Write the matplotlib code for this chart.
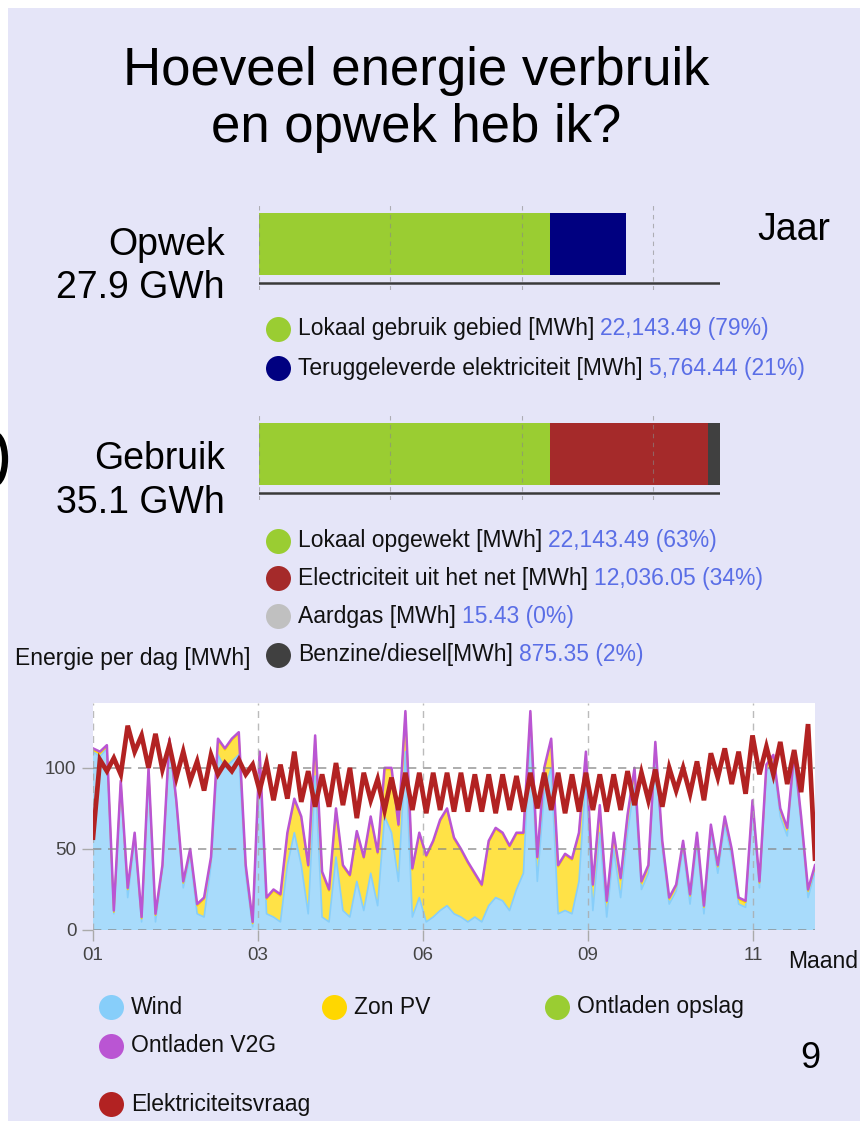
import matplotlib
matplotlib.use('Agg')
import matplotlib.pyplot as plt
import numpy as np
from matplotlib.patches import Rectangle, Arc

plt.rcParams['font.family'] = ['Liberation Sans', 'DejaVu Sans']

# ---------------- data ----------------
title_lines = ['Hoeveel energie verbruik', 'en opwek heb ik?']

opwek_labels = ['Lokaal gebruik gebied [MWh]', 'Teruggeleverde elektriciteit [MWh]']
opwek_values = [22143.49, 5764.44]
opwek_colors = ['#9acd32', '#000080']

gebruik_labels = ['Lokaal opgewekt [MWh]', 'Electriciteit uit het net [MWh]',
                  'Aardgas [MWh]', 'Benzine/diesel[MWh]']
gebruik_values = [22143.49, 12036.05, 15.43, 875.35]
gebruik_colors = ['#9acd32', '#a52a2a', '#c0c0c0', '#404040']

month_labels = ['01', '03', '06', '09', '11']

series_names = ['Wind', 'Zon PV', 'Ontladen opslag', 'Ontladen V2G', 'Elektriciteitsvraag']
series_colors = ['#87cefa', '#ffd700', '#9acd32', '#ba55d3', '#b22222']

# daily energy [MWh], sampled about twice a week over the year
wind = [110, 107, 112, 10, 90, 20, 56, 5, 98, 5, 38, 116, 78, 26, 46, 10, 8, 40, 108, 100,
        104, 108, 34, 2, 105, 10, 8, 5, 40, 60, 40, 10, 95, 8, 5, 45, 12, 8, 30, 12,
        35, 15, 70, 60, 30, 110, 8, 20, 5, 8, 12, 15, 10, 8, 5, 8, 5, 15, 20, 18,
        12, 25, 35, 125, 30, 85, 100, 10, 12, 10, 30, 95, 12, 60, 8, 50, 20, 60, 90, 25,
        35, 112, 50, 16, 24, 50, 16, 54, 10, 60, 35, 65, 45, 16, 14, 76, 26, 98, 104, 70,
        58, 106, 66, 20, 36]
solar = [1, 2, 1, 1, 1, 5, 3, 2, 1, 4, 1, 1, 1, 3, 3, 5, 11, 4, 9, 11,
         13, 13, 5, 2, 4, 9, 16, 16, 19, 20, 29, 29, 24, 27, 19, 29, 27, 25, 30, 32,
         34, 32, 29, 39, 34, 24, 29, 39, 40, 46, 55, 59, 46, 41, 36, 26, 22, 39, 42, 41,
         39, 34, 24, 9, 14, 14, 17, 29, 34, 33, 29, 14, 15, 16, 9, 9, 11, 10, 9, 4,
         4, 3, 4, 3, 3, 4, 5, 5, 4, 4, 4, 4, 4, 3, 3, 3, 3, 3, 3, 4,
         4, 3, 3, 4, 3]
opslag = [0] * 105
v2g = [1] * 105
demand = [57, 105, 98, 106, 96, 126, 110, 120, 100, 121, 99, 114, 94, 110, 92, 104, 86, 108, 96, 103,
          98, 105, 96, 102, 86, 103, 80, 102, 81, 110, 79, 98, 76, 96, 76, 103, 77, 100, 69, 97,
          80, 93, 74, 94, 74, 97, 74, 97, 72, 97, 74, 97, 73, 97, 73, 96, 73, 96, 72, 96,
          74, 95, 73, 97, 75, 97, 74, 97, 72, 96, 73, 97, 74, 96, 73, 96, 74, 98, 77, 97,
          80, 99, 76, 100, 86, 100, 84, 104, 80, 109, 94, 112, 90, 110, 84, 120, 96, 113, 96, 116,
          90, 111, 85, 127, 44]

# ---------------- figure ----------------
W, H = 860, 1121
fig = plt.figure(figsize=(W / 100, H / 100), dpi=100, facecolor='white')

def fx(px):
    return px / W

def fy(py):
    return 1 - py / H

BG = '#e5e5f8'
NUM = '#5a6ee6'

ax0 = fig.add_axes([0, 0, 1, 1], zorder=-1)
ax0.set_xlim(0, W)
ax0.set_ylim(H, 0)
ax0.axis('off')
ax0.add_patch(Rectangle((8, 8), W - 8, H - 8, color=BG, lw=0))
# partial bracket glyph cut by the left edge
ax0.add_patch(Arc((-6, 459), 22, 50, theta1=-90, theta2=90, lw=4.5, color='black'))

# title
ax0.text(416, 71, title_lines[0], fontsize=38, ha='center', va='center', color='black')
ax0.text(416, 128, title_lines[1], fontsize=38, ha='center', va='center', color='black')

tot_opwek = sum(opwek_values)
tot_gebruik = sum(gebruik_values)
xmax = max(tot_opwek, tot_gebruik) / 1000


def bar_axes(top_px, values, colors):
    ax = fig.add_axes([fx(259), fy(top_px + 85), fx(720) - fx(259), 85 / H])
    ax.set_xlim(0, xmax)
    ax.set_ylim(0, 1)
    ax.axis('off')
    left = 0
    for v, c in zip(values, colors):
        ax.barh(0.541, v / 1000, left=left, height=0.729, color=c, lw=0, zorder=1)
        left += v / 1000
    for g in [0, 10, 20, 30]:
        ax.axvline(g, color='#888888', ls=(0, (4, 4)), lw=0.8, alpha=0.6, zorder=2)
    ax.axhline(0.082, color='#3a3a3a', lw=1.8, zorder=3)
    return ax

bar_axes(205, opwek_values, opwek_colors)
bar_axes(415, gebruik_values, gebruik_colors)

ax0.text(225, 245, 'Opwek', fontsize=27, ha='right', va='center')
ax0.text(225, 288, f'{tot_opwek / 1000:.1f} GWh', fontsize=27, ha='right', va='center')
ax0.text(225, 459, 'Gebruik', fontsize=27, ha='right', va='center')
ax0.text(225, 503, f'{tot_gebruik / 1000:.1f} GWh', fontsize=27, ha='right', va='center')
ax0.text(757, 230, 'Jaar', fontsize=27, ha='left', va='center')

fig.canvas.draw()
renderer = fig.canvas.get_renderer()


def legend_row(x_c, y, color, label, value=None, total=None):
    ax0.plot([x_c], [y], 'o', ms=18, color=color, mec='none')
    t = ax0.text(x_c + 20, y, label, fontsize=16.5, ha='left', va='center', color='#111111')
    if value is not None:
        bb = t.get_window_extent(renderer=renderer)
        pct = round(value / total * 100)
        ax0.text(bb.x1 + 6, y, f'{value:,.2f} ({pct}%)', fontsize=16.5,
                 ha='left', va='center', color=NUM)

for lab, v, c, y in zip(opwek_labels, opwek_values, opwek_colors, [329, 368]):
    legend_row(278, y, c, lab, v, tot_opwek)
for lab, v, c, y in zip(gebruik_labels, gebruik_values, gebruik_colors, [541, 578, 616, 655]):
    legend_row(278, y, c, lab, v, tot_gebruik)

ax0.text(15, 658, 'Energie per dag [MWh]', fontsize=16.5, ha='left', va='center', color='#111111')

# ---------------- time series ----------------
ax3 = fig.add_axes([fx(93), fy(930), fx(815) - fx(93), (930 - 703) / H])
ax3.set_facecolor('white')
days = np.linspace(0, 365, len(demand))
w = np.array(wind, float)
s = np.array(solar, float)
o = np.array(opslag, float)
v = np.array(v2g, float)

ax3.stackplot(days, w, s, o, v, colors=series_colors[:4], alpha=0.72, lw=0, zorder=1)
ax3.plot(days, w, color='#87cefa', lw=1.2, zorder=2)
ax3.plot(days, w + s, color='#ffd700', lw=1.2, zorder=2)
ax3.plot(days, w + s + o + v, color='#ba55d3', lw=1.8, zorder=2.5)
ax3.plot(days, demand, color='#b22222', lw=3.4, zorder=4, solid_joinstyle='miter')

ax3.set_xlim(0, 365)
ax3.set_ylim(0, 140)
for sp in ax3.spines.values():
    sp.set_visible(False)
xt = [i * 83.4 for i in range(len(month_labels))]
ax3.set_xticks(xt)
ax3.set_xticklabels(month_labels)
ax3.set_yticks([0, 50, 100])
ax3.tick_params(axis='both', labelsize=13.5, labelcolor='#444444', color='#aaaaaa',
                length=8, width=1)
ax3.tick_params(axis='y', pad=4)
ax3.tick_params(axis='x', pad=4)
for yv in [0, 50, 100]:
    ax3.axhline(yv, color='#888888', ls=(0, (5, 4)), lw=1.2, alpha=0.8, zorder=3)
for xv in xt:
    ax3.axvline(xv, color='#aaaaaa', ls=(0, (5, 4)), lw=1.0, alpha=0.8, zorder=3)

ax0.text(788, 962, 'Maand', fontsize=16.5, ha='left', va='center', color='#111111')

# bottom legend
leg_pos = [(111, 1007), (334, 1007), (557, 1007), (111, 1046), (111, 1104)]
for (xc, yc), name, col in zip(leg_pos, series_names, series_colors):
    ax0.plot([xc], [yc], 'o', ms=18, color=col, mec='none')
    ax0.text(xc + 20, yc, name, fontsize=16.5, ha='left', va='center', color='#111111')

ax0.text(810, 1058, '9', fontsize=26, ha='center', va='center', color='black')

fig.savefig('out.png', dpi=100, facecolor='white')
